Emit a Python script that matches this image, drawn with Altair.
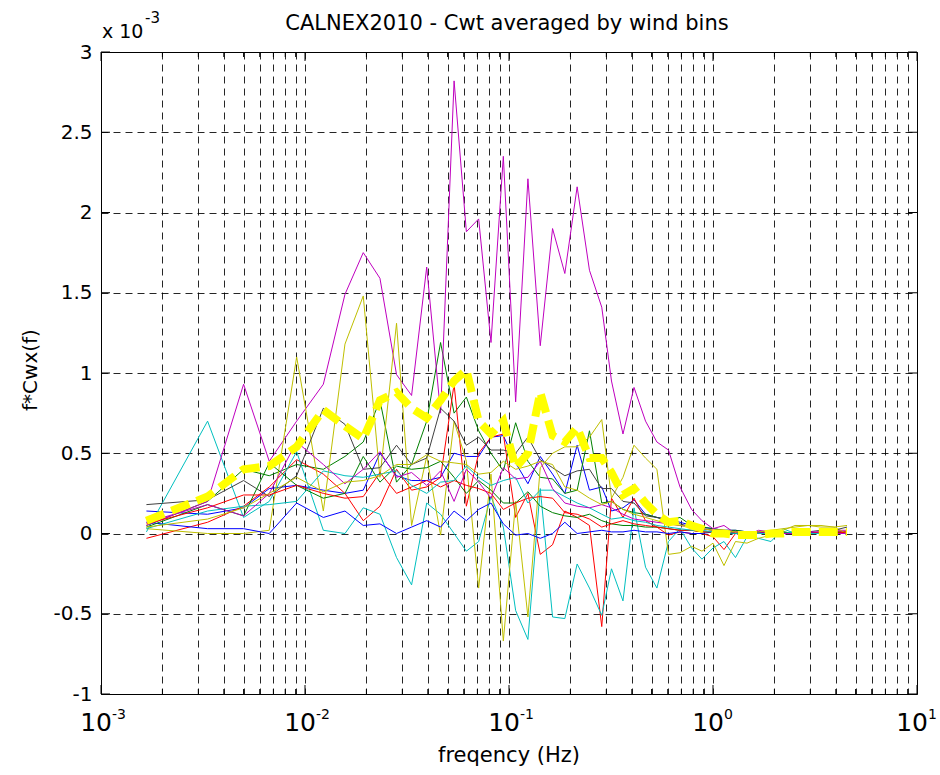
import altair as alt
import pandas as pd

# ---------------- data (values in units of 1e-3) ----------------
freq = [0.00167, 0.00333, 0.00500, 0.00668, 0.00910, 0.0123, 0.0157, 0.0193, 0.0233, 0.0281,
        0.0333, 0.0395, 0.0462, 0.0538, 0.0618, 0.0710, 0.0816, 0.0938, 0.1078, 0.1238,
        0.1423, 0.1635, 0.1878, 0.2158, 0.2480, 0.2849, 0.318, 0.362, 0.410, 0.467,
        0.531, 0.605, 0.689, 0.785, 0.883, 1.00, 1.132, 1.289, 1.468, 1.671,
        1.924, 2.203, 2.523, 2.922, 3.383, 3.919, 4.538]

blue1 = [0.14, 0.12, 0.16, 0.28, 0.30, 0.27, 0.25, 0.27, 0.50, 0.36,
         0.33, 0.33, 0.35, 0.50, 0.48, 0.48, 0.60, 0.61, 0.44, 0.31,
         0.48, 0.37, 0.25, 0.55, 0.27, 0.29, 0.14, 0.16, 0.21, 0.12,
         0.10, 0.09, 0.07, 0.05, 0.04, 0.03, 0.02, 0.02, 0.01, 0.01,
         0.01, 0.00, 0.01, 0.00, 0.00, 0.01, 0.01]
green1 = [0.05, 0.20, 0.40, 0.36, 0.43, 0.40, 0.48, 0.57, 0.83, 0.32,
          0.43, 0.70, 1.19, 0.75, 0.85, 0.64, 0.50, 0.39, 0.69, 0.45,
          0.35, 0.34, 0.25, 0.27, 0.64, 0.19, 0.20, 0.15, 0.13, 0.12,
          0.10, 0.08, 0.10, 0.05, 0.04, 0.03, 0.02, 0.02, 0.01, 0.01,
          0.00, 0.01, 0.00, 0.00, 0.01, 0.01, 0.00]
red1 = [-0.03, 0.07, 0.17, 0.29, 0.46, 0.37, 0.25, 0.08, 0.17, 0.40,
        0.27, 0.29, 0.35, 0.93, 0.17, 0.50, 0.60, 0.62, 0.10, 0.25,
        -0.13, -0.07, 0.14, 0.10, 0.05, -0.58, 0.22, 0.10, 0.22, 0.08,
        0.04, -0.01, 0.01, 0.00, 0.00, -0.02, -0.10, 0.00, 0.01, 0.00,
        0.01, 0.00, 0.00, 0.01, 0.00, 0.01, 0.01]
cyan1 = [0.01, 0.70, 0.10, 0.20, 0.51, 0.02, 0.00, 0.16, 0.12, -0.15,
         -0.32, 0.19, 0.12, 0.00, -0.11, -0.05, 0.23, 0.04, -0.48, -0.66,
         0.28, -0.52, -0.53, -0.19, -0.34, -0.51, -0.22, -0.42, 0.16, -0.21,
         -0.34, -0.05, 0.03, -0.09, -0.16, -0.09, -0.05, -0.15, -0.02, -0.03,
         -0.05, 0.03, 0.00, 0.01, 0.00, 0.01, 0.00]
magenta1 = [0.05, 0.20, 0.93, 0.45, 0.70, 0.93, 1.49, 1.75, 1.59, 0.99,
            0.86, 1.66, 0.75, 2.82, 1.88, 1.96, 1.19, 2.35, 0.82, 2.21,
            1.17, 1.90, 1.62, 2.16, 1.64, 1.41, 0.95, 0.62, 0.91, 0.70,
            0.57, 0.52, 0.29, 0.15, 0.08, 0.03, 0.05, 0.00, -0.01, 0.02,
            0.01, 0.00, 0.01, 0.00, 0.01, 0.02, 0.02]
olive1 = [0.03, 0.00, 0.00, 0.02, 1.10, 0.14, 1.18, 1.48, 0.35, 1.31,
          0.05, 0.48, -0.01, 0.70, 0.45, -0.34, 0.37, -0.67, 0.20, -0.52,
          0.41, 0.50, 0.54, 0.54, 0.60, 0.71, 0.22, 0.35, 0.55, 0.47,
          0.40, -0.13, -0.12, -0.08, -0.11, -0.06, -0.20, -0.05, -0.06, -0.03,
          -0.01, 0.02, 0.05, 0.05, 0.04, 0.04, 0.00]
black1 = [0.18, 0.21, 0.33, 0.23, 0.36, 0.78, 0.68, 0.40, 0.41, 0.55,
          0.43, 0.47, 0.78, 0.70, 0.55, 0.60, 0.52, 0.52, 0.50, 0.60,
          0.46, 0.41, 0.36, 0.39, 0.40, 0.28, 0.28, 0.20, 0.19, 0.11,
          0.10, 0.08, 0.06, 0.04, 0.03, 0.02, 0.01, 0.01, 0.00, 0.01,
          0.01, 0.00, 0.01, 0.01, 0.02, 0.02, 0.04]
blue2 = [0.07, 0.03, 0.03, 0.00, 0.19, 0.10, 0.14, 0.05, 0.06, 0.00,
         0.04, 0.08, 0.04, 0.14, 0.08, 0.15, 0.19, 0.06, -0.01, 0.00,
         -0.03, 0.00, 0.07, 0.00, 0.01, 0.02, 0.01, 0.01, 0.02, 0.01,
         0.01, 0.00, 0.01, 0.00, 0.00, 0.01, 0.00, 0.00, 0.00, 0.01,
         0.00, 0.00, 0.00, 0.01, 0.00, 0.00, 0.00]
green2 = [0.04, 0.18, 0.11, 0.44, 0.30, 0.22, 0.25, 0.48, 0.32, 0.42,
          0.40, 0.41, 0.45, 0.35, 0.25, 0.33, 0.27, 0.19, 0.19, 0.26,
          0.17, 0.13, 0.11, 0.10, 0.12, 0.08, 0.06, 0.05, 0.05, 0.04,
          0.04, 0.03, 0.02, 0.02, 0.01, 0.01, 0.01, 0.00, 0.01, 0.00,
          0.00, 0.01, 0.00, 0.00, 0.00, 0.01, 0.00]
red2 = [0.06, 0.16, 0.24, 0.24, 0.30, 0.25, 0.22, 0.23, 0.38, 0.25,
        0.29, 0.33, 0.29, 0.33, 0.30, 0.28, 0.25, 0.15, 0.19, 0.22,
        0.23, 0.22, 0.13, 0.12, 0.09, 0.04, 0.06, 0.08, 0.06, 0.05,
        0.04, 0.03, 0.02, 0.02, 0.01, 0.01, 0.00, 0.01, 0.00, 0.00,
        0.01, 0.00, 0.00, 0.00, 0.01, 0.00, 0.01]
cyan2 = [0.03, 0.14, 0.17, 0.18, 0.20, 0.39, 0.36, 0.35, 0.37, 0.39,
         0.30, 0.25, 0.32, 0.33, 0.42, 0.35, 0.30, 0.33, 0.35, 0.19,
         0.27, 0.27, 0.23, 0.19, 0.16, 0.12, 0.09, 0.10, 0.08, 0.07,
         0.05, 0.04, 0.03, 0.02, 0.02, 0.01, 0.01, 0.00, 0.01, 0.00,
         0.00, 0.00, 0.01, 0.00, 0.00, 0.00, 0.00]
magenta2 = [0.07, 0.18, 0.11, 0.25, 0.57, 0.43, 0.31, 0.40, 0.51, 0.35,
            0.38, 0.30, 0.39, 0.20, 0.40, 0.32, 0.22, 0.41, 0.34, 0.35,
            0.45, 0.28, 0.19, 0.17, 0.16, 0.18, 0.16, 0.12, 0.09, 0.08,
            0.07, 0.06, 0.05, 0.04, 0.03, 0.02, 0.02, 0.01, 0.01, 0.01,
            0.01, 0.00, 0.00, 0.01, 0.01, 0.00, 0.00]
olive2 = [0.04, 0.09, 0.16, 0.25, 0.35, 0.26, 0.32, 0.33, 0.36, 0.43,
          0.43, 0.49, 0.45, 0.44, 0.43, 0.37, 0.38, 0.45, 0.40, 0.42,
          0.45, 0.43, 0.29, 0.27, 0.22, 0.18, 0.20, 0.15, 0.12, 0.10,
          0.08, 0.06, 0.05, 0.04, 0.03, 0.02, 0.02, 0.01, 0.01, 0.01,
          0.02, 0.03, 0.04, 0.05, 0.05, 0.04, 0.05]
mean_all = [0.08, 0.23, 0.40, 0.42, 0.54, 0.77, 0.67, 0.59, 0.83, 0.88,
            0.78, 0.72, 0.83, 0.95, 1.02, 0.70, 0.62, 0.70, 0.41, 0.50,
            0.88, 0.61, 0.57, 0.66, 0.47, 0.47, 0.38, 0.24, 0.28, 0.19,
            0.12, 0.07, 0.08, 0.05, 0.03, 0.00, 0.00, -0.01, -0.01, -0.01,
            0.00, 0.00, 0.01, 0.01, 0.01, 0.01, 0.01]

series_names = ["b1", "g1", "r1", "c1", "m1", "y1", "k1",
                "b2", "g2", "r2", "c2", "m2", "y2"]
series_values = [blue1, green1, red1, cyan1, magenta1, olive1, black1,
                 blue2, green2, red2, cyan2, magenta2, olive2]
series_colors = ["#0000FF", "#008000", "#FF0000", "#00BFBF", "#BF00BF", "#BFBF00", "#404040",
                 "#0000FF", "#008000", "#FF0000", "#00BFBF", "#BF00BF", "#BFBF00"]

title_text = "CALNEX2010 - Cwt averaged by wind bins"
x_title = "freqency (Hz)"
y_title = "f*Cwx(f)"
decades = [0.001, 0.01, 0.1, 1.0, 10.0]
decade_exps = ["-3", "-2", "-1", "0", "1"]
ygrid = [-1, -0.5, 0, 0.5, 1, 1.5, 2, 2.5, 3]

# ---------------- build tables ----------------
rows = []
for name, vals in zip(series_names, series_values):
    assert len(vals) == len(freq), name
    for i, (f, v) in enumerate(zip(freq, vals)):
        rows.append({"f": f, "v": v, "s": name, "i": i})
df = pd.DataFrame(rows)
assert len(mean_all) == len(freq)
mean_df = pd.DataFrame({"f": freq, "v": mean_all})

minors = [round(d * k, 6) for d in decades[:-1] for k in range(2, 10)]
xgrid = sorted(decades + minors)

W, H = 816, 642
FONT = "DejaVu Sans"
GRID_DASH = [7, 5]

xscale = alt.Scale(type="log", domain=[0.001, 10])
yscale = alt.Scale(domain=[-1, 3], nice=False, zero=False)
X = alt.X("f:Q", scale=xscale,
          axis=alt.Axis(values=xgrid, grid=True, gridDash=GRID_DASH, gridColor="#000000",
                        gridOpacity=0.85, gridWidth=1, labels=False, ticks=False,
                        domain=False, title=None))
Y = alt.Y("v:Q", scale=yscale,
          axis=alt.Axis(values=ygrid, grid=True, gridDash=GRID_DASH, gridColor="#000000",
                        gridOpacity=0.85, gridWidth=1, labelExpr="toString(datum.value)",
                        labelFont=FONT, labelFontSize=20, labelColor="#000000",
                        labelPadding=9, ticks=False, domain=False, title=None))

lines = alt.Chart(df).mark_line(strokeWidth=1).encode(
    x=X, y=Y,
    color=alt.Color("s:N", scale=alt.Scale(domain=series_names, range=series_colors), legend=None),
    detail="s:N",
)
mean_line = alt.Chart(mean_df).mark_line(color="#FFFF00", strokeWidth=8, strokeDash=[19, 8]).encode(
    x=X, y=Y)

xmaj = pd.DataFrame({"f": decades})
xmin = pd.DataFrame({"f": minors})
yt = pd.DataFrame({"v": ygrid})


def xticks(data, y0, y1):
    return alt.Chart(data).mark_rule(color="black", strokeWidth=1).encode(
        x=X, y=alt.value(y0), y2=alt.value(y1))


def yticks(x0, x1):
    return alt.Chart(yt).mark_rule(color="black", strokeWidth=1).encode(
        y=Y, x=alt.value(x0), x2=alt.value(x1))


tick_layers = [
    xticks(xmaj, H, H - 9), xticks(xmaj, 0, 9),
    xticks(xmin, H, H - 5), xticks(xmin, 0, 5),
    yticks(0, 9), yticks(W - 9, W),
]

xlab_df = pd.DataFrame({"f": decades, "e": decade_exps})
ten = alt.Chart(xlab_df).mark_text(align="right", baseline="alphabetic", dx=11, font=FONT,
                                   fontSize=25, color="black").encode(
    x=X, y=alt.value(H + 37), text=alt.value("10"))
exps = alt.Chart(xlab_df).mark_text(align="left", baseline="alphabetic", dx=11, font=FONT,
                                    fontSize=14, color="black").encode(
    x=X, y=alt.value(H + 25), text="e:N")

one = pd.DataFrame({"t": [title_text]})
title = alt.Chart(one).mark_text(align="center", baseline="alphabetic", font=FONT, fontSize=21,
                                 color="black").encode(
    x=alt.value(406), y=alt.value(-22), text=alt.value(title_text))
xt_text = alt.Chart(one).mark_text(align="center", baseline="alphabetic", font=FONT, fontSize=21,
                                   color="black").encode(
    x=alt.value(W / 2), y=alt.value(H + 68), text=alt.value(x_title))
yt_text = alt.Chart(one).mark_text(align="center", baseline="middle", angle=270, font=FONT,
                                   fontSize=20, color="black").encode(
    x=alt.value(-70), y=alt.value(318), text=alt.value(y_title))
mult = alt.Chart(one).mark_text(align="left", baseline="alphabetic", font=FONT, fontSize=19,
                                color="black").encode(
    x=alt.value(1), y=alt.value(-14), text=alt.value("x 10"))
mult_exp = alt.Chart(one).mark_text(align="left", baseline="alphabetic", font=FONT, fontSize=15,
                                    color="black").encode(
    x=alt.value(44), y=alt.value(-29), text=alt.value("-3"))

chart = alt.layer(
    lines, mean_line, *tick_layers, ten, exps, title, xt_text, yt_text, mult, mult_exp
).properties(
    width=W, height=H,
    padding={"left": 101, "top": 52, "right": 23, "bottom": 81},
    autosize=alt.AutoSizeParams(type="none"),
    background="white",
).configure_view(stroke="black", strokeWidth=1)

chart.save("out.html", embed_options={"renderer": "svg", "actions": False})
